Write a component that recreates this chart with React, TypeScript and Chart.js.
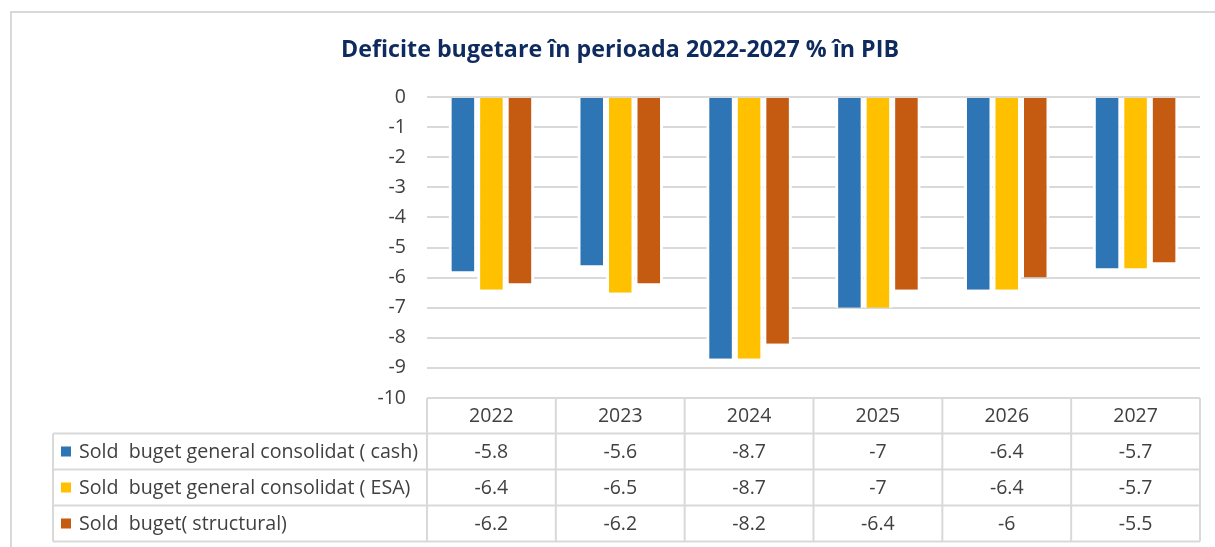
import React, { useEffect, useRef } from "react";
import { Chart, registerables } from "chart.js";

Chart.register(...registerables);

const chartTitle = "Deficite bugetare în perioada 2022-2027 % în PIB";
const categories = ["2022", "2023", "2024", "2025", "2026", "2027"];
const seriesNames = [
  "Sold  buget general consolidat ( cash)",
  "Sold  buget general consolidat ( ESA)",
  "Sold  buget( structural)",
];
const cashValues = [-5.8, -5.6, -8.7, -7, -6.4, -5.7];
const esaValues = [-6.4, -6.5, -8.7, -7, -6.4, -5.7];
const structuralValues = [-6.2, -6.2, -8.2, -6.4, -6, -5.5];
const seriesColors = ["#2E75B6", "#FFC000", "#C55A11"];
const yMin = -10;
const yMax = 0;
const yStep = 1;

const W = 1215;
const H = 547;
const TEXT = "#404040";
const LINE = "#d9d9d9";
const FONT = "'Open Sans', 'DejaVu Sans', sans-serif";

function fillFit(ctx: CanvasRenderingContext2D, text: string, x: number, y: number, sx: number) {
  ctx.save();
  ctx.translate(x, y);
  ctx.scale(sx, 1);
  ctx.fillText(text, 0, 0);
  ctx.restore();
}

const decorPlugin = {
  id: "decor",
  afterDraw(chart: any) {
    const ctx: CanvasRenderingContext2D = chart.ctx;
    const area = chart.chartArea;
    const n = categories.length;
    const catW = (area.right - area.left) / n;
    const allSeries = [cashValues, esaValues, structuralValues];

    ctx.save();
    // outer frame
    ctx.strokeStyle = LINE;
    ctx.lineWidth = 2;
    ctx.beginPath();
    ctx.moveTo(11, H);
    ctx.lineTo(11, 12);
    ctx.lineTo(W, 12);
    ctx.stroke();

    // title
    ctx.fillStyle = "#0E2A5E";
    ctx.font = `bold 23px ${FONT}`;
    ctx.textAlign = "left";
    ctx.textBaseline = "alphabetic";
    const tw = ctx.measureText(chartTitle).width;
    const tsx = 558 / tw;
    fillFit(ctx, chartTitle, 341, 57, tsx);

    // data table
    const tableLeft = 53;
    const headTop = area.bottom;
    const headBottom = headTop + 35.5;
    const rowH = 36;
    const tableBottom = headBottom + rowH * allSeries.length;

    ctx.strokeStyle = LINE;
    ctx.lineWidth = 2;
    ctx.beginPath();
    for (let i = 0; i <= n; i++) {
      const x = area.left + i * catW;
      ctx.moveTo(x, headTop);
      ctx.lineTo(x, tableBottom);
    }
    ctx.moveTo(tableLeft, headBottom);
    ctx.lineTo(tableLeft, tableBottom);
    for (let r = 0; r <= allSeries.length; r++) {
      const y = headBottom + r * rowH;
      ctx.moveTo(tableLeft, y);
      ctx.lineTo(area.right, y);
    }
    ctx.stroke();

    ctx.fillStyle = TEXT;
    ctx.font = `19.5px ${FONT}`;
    ctx.textAlign = "center";
    ctx.textBaseline = "middle";
    for (let i = 0; i < n; i++) {
      const cx = area.left + (i + 0.5) * catW;
      ctx.fillText(categories[i], cx, (headTop + headBottom) / 2 + 1);
      allSeries.forEach((vals, r) => {
        const cy = headBottom + (r + 0.5) * rowH + 1;
        ctx.fillText(String(vals[i]), cx, cy);
      });
    }

    ctx.textAlign = "left";
    const lw = ctx.measureText(seriesNames[0]).width;
    const lsx = 339 / lw;
    seriesNames.forEach((name, r) => {
      const cy = headBottom + (r + 0.5) * rowH;
      ctx.fillStyle = seriesColors[r];
      ctx.fillRect(61, cy - 5, 10, 10);
      ctx.fillStyle = TEXT;
      fillFit(ctx, name, 79, cy + 1, lsx);
    });
    ctx.restore();
  },
};

export default function App() {
  const ref = useRef<HTMLCanvasElement | null>(null);

  useEffect(() => {
    if (!ref.current) return;
    const seriesData = [cashValues, esaValues, structuralValues];
    const chart = new Chart(ref.current, {
      type: "bar",
      data: {
        labels: categories,
        datasets: seriesData.map((vals, i) => ({
          label: seriesNames[i],
          data: vals,
          backgroundColor: seriesColors[i],
          borderColor: "#ffffff",
          borderWidth: { left: 3, right: 3, top: 0, bottom: 0 },
          borderSkipped: false,
          categoryPercentage: 0.664,
          barPercentage: 1,
        })),
      },
      options: {
        responsive: false,
        animation: false,
        layout: { padding: { top: 97, bottom: 149, left: 0, right: 15 } },
        plugins: {
          legend: { display: false },
          title: { display: false },
          tooltip: { enabled: false },
        },
        scales: {
          x: { display: false },
          y: {
            min: yMin,
            max: yMax,
            ticks: {
              stepSize: yStep,
              color: TEXT,
              font: { family: FONT, size: 19.5 },
              padding: 21,
            },
            grid: { color: LINE, lineWidth: 2, drawTicks: false },
            border: { display: false },
            afterFit: (s: any) => {
              s.width = 427;
            },
          },
        },
      },
      plugins: [decorPlugin],
    });
    return () => chart.destroy();
  }, []);

  return (
    <div style={{ position: "fixed", left: 0, top: 0, width: W, height: H, background: "#fff" }}>
      <canvas ref={ref} width={W} height={H} style={{ display: "block", width: W, height: H }} />
    </div>
  );
}
